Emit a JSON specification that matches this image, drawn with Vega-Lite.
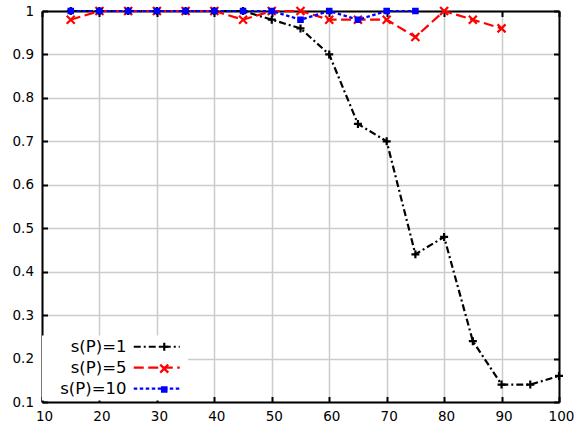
{
  "$schema": "https://vega.github.io/schema/vega-lite/v6.json",
  "autosize": {"type": "none"},
  "width": 517,
  "height": 391,
  "padding": {"left": 42, "top": 11, "right": 15, "bottom": 26},
  "background": "white",
  "config": {
    "view": {"stroke": null},
    "font": "DejaVu Sans",
    "axis": {
      "labelFont": "DejaVu Sans",
      "labelFontSize": 13.5,
      "labelColor": "black",
      "domainColor": "black",
      "domainWidth": 2,
      "tickColor": "black",
      "tickWidth": 2,
      "tickSize": -5.5,
      "gridColor": "#cccccc",
      "gridWidth": 1.5,
      "gridOpacity": 1,
      "labelFlush": false,
      "title": null
    },
    "legend": {
      "orient": "none",
      "legendX": 0,
      "legendY": 324.5,
      "title": null,
      "labelFont": "DejaVu Sans",
      "labelFontSize": 16.5,
      "labelColor": "black",
      "labelAlign": "right",
      "labelOffset": -38.5,
      "symbolOffset": 103.5,
      "symbolSize": 64,
      "symbolStrokeWidth": 2.2,
      "padding": 3,
      "rowPadding": 3.9
    }
  },
  "data": {
    "values": [
      {"x": 15, "y": 1, "series": "s(P)=1"},
      {"x": 20, "y": 1, "series": "s(P)=1"},
      {"x": 25, "y": 1, "series": "s(P)=1"},
      {"x": 30, "y": 1, "series": "s(P)=1"},
      {"x": 35, "y": 1, "series": "s(P)=1"},
      {"x": 40, "y": 1, "series": "s(P)=1"},
      {"x": 45, "y": 1, "series": "s(P)=1"},
      {"x": 50, "y": 0.98, "series": "s(P)=1"},
      {"x": 55, "y": 0.96, "series": "s(P)=1"},
      {"x": 60, "y": 0.9, "series": "s(P)=1"},
      {"x": 65, "y": 0.74, "series": "s(P)=1"},
      {"x": 70, "y": 0.7, "series": "s(P)=1"},
      {"x": 75, "y": 0.44, "series": "s(P)=1"},
      {"x": 80, "y": 0.48, "series": "s(P)=1"},
      {"x": 85, "y": 0.24, "series": "s(P)=1"},
      {"x": 90, "y": 0.14, "series": "s(P)=1"},
      {"x": 95, "y": 0.14, "series": "s(P)=1"},
      {"x": 100, "y": 0.16, "series": "s(P)=1"},
      {"x": 15, "y": 0.98, "series": "s(P)=5"},
      {"x": 20, "y": 1, "series": "s(P)=5"},
      {"x": 25, "y": 1, "series": "s(P)=5"},
      {"x": 30, "y": 1, "series": "s(P)=5"},
      {"x": 35, "y": 1, "series": "s(P)=5"},
      {"x": 40, "y": 1, "series": "s(P)=5"},
      {"x": 45, "y": 0.98, "series": "s(P)=5"},
      {"x": 50, "y": 1, "series": "s(P)=5"},
      {"x": 55, "y": 1, "series": "s(P)=5"},
      {"x": 60, "y": 0.98, "series": "s(P)=5"},
      {"x": 65, "y": 0.98, "series": "s(P)=5"},
      {"x": 70, "y": 0.98, "series": "s(P)=5"},
      {"x": 75, "y": 0.94, "series": "s(P)=5"},
      {"x": 80, "y": 1, "series": "s(P)=5"},
      {"x": 85, "y": 0.98, "series": "s(P)=5"},
      {"x": 90, "y": 0.96, "series": "s(P)=5"},
      {"x": 15, "y": 1, "series": "s(P)=10"},
      {"x": 20, "y": 1, "series": "s(P)=10"},
      {"x": 25, "y": 1, "series": "s(P)=10"},
      {"x": 30, "y": 1, "series": "s(P)=10"},
      {"x": 35, "y": 1, "series": "s(P)=10"},
      {"x": 40, "y": 1, "series": "s(P)=10"},
      {"x": 45, "y": 1, "series": "s(P)=10"},
      {"x": 50, "y": 1, "series": "s(P)=10"},
      {"x": 55, "y": 0.98, "series": "s(P)=10"},
      {"x": 60, "y": 1, "series": "s(P)=10"},
      {"x": 65, "y": 0.98, "series": "s(P)=10"},
      {"x": 70, "y": 1, "series": "s(P)=10"},
      {"x": 75, "y": 1, "series": "s(P)=10"}
    ]
  },
  "layer": [
    {
      "mark": {"type": "line", "strokeWidth": 2.2, "clip": false},
      "encoding": {
        "x": {
          "field": "x", "type": "quantitative",
          "scale": {"domain": [10, 100], "nice": false, "zero": false},
          "axis": {"orient": "bottom", "values": [10, 20, 30, 40, 50, 60, 70, 80, 90, 100], "labelPadding": 13, "labelOffset": 2, "grid": true}
        },
        "y": {
          "field": "y", "type": "quantitative",
          "scale": {"domain": [0.1, 1], "nice": false, "zero": false},
          "axis": {"orient": "left", "values": [0.1, 0.2, 0.3, 0.4, 0.5, 0.6, 0.7, 0.8, 0.9, 1], "format": ".1~f", "labelPadding": 14, "grid": true}
        },
        "color": {
          "field": "series", "type": "nominal",
          "scale": {"domain": ["s(P)=1", "s(P)=5", "s(P)=10"], "range": ["#000000", "#ff0000", "#0000ff"]},
          "legend": {
            "symbolType": "M-5.75,0L5.75,0",
            "fillColor": "white",
            "zindex": 1
          }
        },
        "strokeDash": {
          "field": "series", "type": "nominal",
          "scale": {"domain": ["s(P)=1", "s(P)=5", "s(P)=10"], "range": [[7, 3, 2, 3], [10, 4.5], [3.5, 2.5]]}
        }
      }
    },
    {
      "mark": {"type": "point", "filled": false, "strokeWidth": 2.2, "size": 64, "opacity": 1, "clip": false},
      "encoding": {
        "x": {
          "field": "x", "type": "quantitative",
          "axis": {"orient": "top", "values": [10, 20, 30, 40, 50, 60, 70, 80, 90, 100], "labels": false, "grid": false}
        },
        "y": {
          "field": "y", "type": "quantitative",
          "axis": {"orient": "right", "values": [0.1, 0.2, 0.3, 0.4, 0.5, 0.6, 0.7, 0.8, 0.9, 1], "labels": false, "grid": false}
        },
        "stroke": {
          "field": "series", "type": "nominal",
          "sort": {"field": "y", "op": "min"},
          "scale": {"range": ["#000000", "#ff0000", "#0000ff"]},
          "legend": {"labelOpacity": 0, "legendX": 7.5, "zindex": 2}
        },
        "shape": {
          "field": "series", "type": "nominal",
          "sort": {"field": "y", "op": "min"},
          "scale": {"range": ["M-1,0L1,0M0,-1L0,1", "M-1,-1L1,1M-1,1L1,-1", "M-0.55,-0.55L0.55,-0.55L0.55,0.55L-0.55,0.55ZM-0.2,-0.2L0.2,-0.2L0.2,0.2L-0.2,0.2Z"]},
          "legend": {"labelOpacity": 0, "legendX": 7.5, "zindex": 2}
        }
      }
    }
  ]
}
